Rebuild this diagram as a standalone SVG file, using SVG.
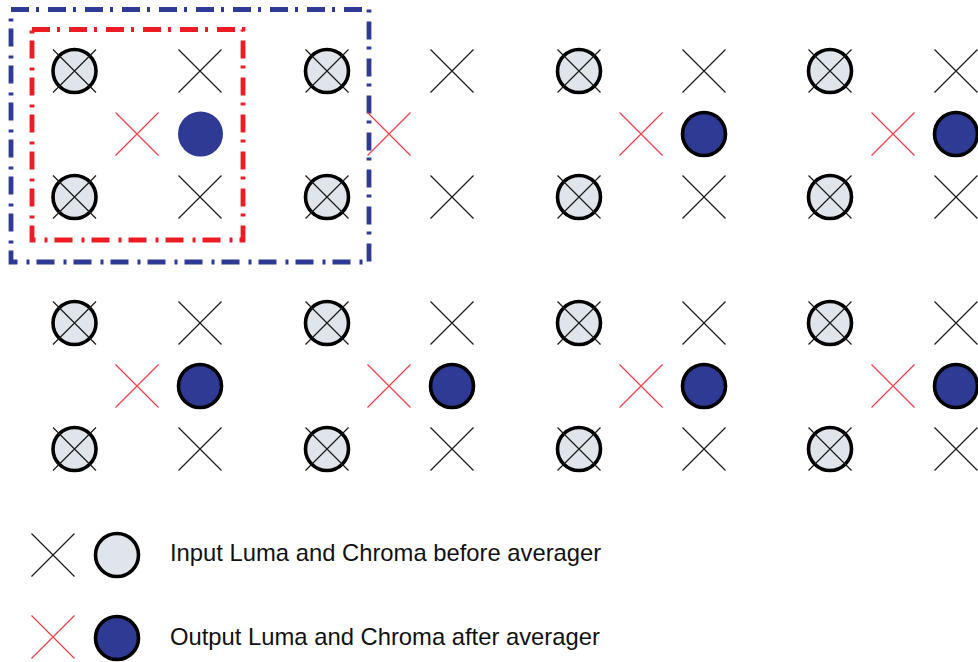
<svg xmlns="http://www.w3.org/2000/svg" xmlns:xlink="http://www.w3.org/1999/xlink" width="978" height="662" viewBox="0 0 978 662">
<style>
.xk{stroke:#1a1a1a;stroke-width:1.2;fill:none}
.xr{stroke:#ef3e48;stroke-width:1.2;fill:none}
.luma{fill:#dfe5eb;stroke:#000;stroke-width:3.6}
.chroma{fill:#2e3a94;stroke:#000;stroke-width:3.6}
.box{fill:none;stroke-width:4.8;stroke-dasharray:18 7 3 9}
.lbl{font-family:"Liberation Sans",Arial,sans-serif;font-size:23.8px;fill:#111}
</style>
<defs>
<path id="cross" d="M-21.5,-21.5L21.5,21.5M21.5,-21.5L-21.5,21.5"/>
<g id="lumaX"><circle class="luma" r="21.5"/><use xlink:href="#cross" class="xk"/></g>
<g id="blackX"><use xlink:href="#cross" class="xk"/></g>
<g id="redX"><use xlink:href="#cross" class="xr"/></g>
<g id="blueC"><circle class="chroma" r="21.5"/></g>
</defs>
<rect width="978" height="662" fill="#fff"/>
<g id="connectors">
<rect class="box" x="11" y="9.5" width="358" height="252.5" stroke="#2e3a94"/>
<rect class="box" x="32" y="29.5" width="211" height="210.5" stroke="#ed1c24"/>
</g>
<g id="grid">
<g id="n-l-1-1"><use xlink:href="#lumaX" x="74.5" y="71"/></g>
<g id="n-x-1-1"><use xlink:href="#blackX" x="200" y="71"/></g>
<g id="n-l-1-2"><use xlink:href="#lumaX" x="327" y="71"/></g>
<g id="n-x-1-2"><use xlink:href="#blackX" x="452" y="71"/></g>
<g id="n-l-1-3"><use xlink:href="#lumaX" x="579" y="71"/></g>
<g id="n-x-1-3"><use xlink:href="#blackX" x="704" y="71"/></g>
<g id="n-l-1-4"><use xlink:href="#lumaX" x="830" y="71"/></g>
<g id="n-x-1-4"><use xlink:href="#blackX" x="956" y="71"/></g>

<g id="n-r-2-1"><use xlink:href="#redX" x="137" y="134"/></g>
<g id="n-c-2-1"><circle cx="200.5" cy="134" r="21.5" fill="#2e3a94" stroke="#2e3a94" stroke-width="2"/></g>
<g id="n-r-2-2"><use xlink:href="#redX" x="389" y="134"/></g>
<g id="n-r-2-3"><use xlink:href="#redX" x="641" y="134"/></g>
<g id="n-c-2-3"><use xlink:href="#blueC" x="704" y="134"/></g>
<g id="n-r-2-4"><use xlink:href="#redX" x="893" y="134"/></g>
<g id="n-c-2-4"><use xlink:href="#blueC" x="956" y="134"/></g>

<g id="n-l-3-1"><use xlink:href="#lumaX" x="74.5" y="197"/></g>
<g id="n-x-3-1"><use xlink:href="#blackX" x="200" y="197"/></g>
<g id="n-l-3-2"><use xlink:href="#lumaX" x="327" y="197"/></g>
<g id="n-x-3-2"><use xlink:href="#blackX" x="452" y="197"/></g>
<g id="n-l-3-3"><use xlink:href="#lumaX" x="579" y="197"/></g>
<g id="n-x-3-3"><use xlink:href="#blackX" x="704" y="197"/></g>
<g id="n-l-3-4"><use xlink:href="#lumaX" x="830" y="197"/></g>
<g id="n-x-3-4"><use xlink:href="#blackX" x="956" y="197"/></g>

<g id="n-l-4-1"><use xlink:href="#lumaX" x="74.5" y="323"/></g>
<g id="n-x-4-1"><use xlink:href="#blackX" x="200" y="323"/></g>
<g id="n-l-4-2"><use xlink:href="#lumaX" x="327" y="323"/></g>
<g id="n-x-4-2"><use xlink:href="#blackX" x="452" y="323"/></g>
<g id="n-l-4-3"><use xlink:href="#lumaX" x="579" y="323"/></g>
<g id="n-x-4-3"><use xlink:href="#blackX" x="704" y="323"/></g>
<g id="n-l-4-4"><use xlink:href="#lumaX" x="830" y="323"/></g>
<g id="n-x-4-4"><use xlink:href="#blackX" x="956" y="323"/></g>

<g id="n-r-5-1"><use xlink:href="#redX" x="137" y="386"/></g>
<g id="n-c-5-1"><use xlink:href="#blueC" x="200" y="386"/></g>
<g id="n-r-5-2"><use xlink:href="#redX" x="389" y="386"/></g>
<g id="n-c-5-2"><use xlink:href="#blueC" x="452" y="386"/></g>
<g id="n-r-5-3"><use xlink:href="#redX" x="641" y="386"/></g>
<g id="n-c-5-3"><use xlink:href="#blueC" x="704" y="386"/></g>
<g id="n-r-5-4"><use xlink:href="#redX" x="893" y="386"/></g>
<g id="n-c-5-4"><use xlink:href="#blueC" x="956" y="386"/></g>

<g id="n-l-6-1"><use xlink:href="#lumaX" x="74.5" y="449"/></g>
<g id="n-x-6-1"><use xlink:href="#blackX" x="200" y="449"/></g>
<g id="n-l-6-2"><use xlink:href="#lumaX" x="327" y="449"/></g>
<g id="n-x-6-2"><use xlink:href="#blackX" x="452" y="449"/></g>
<g id="n-l-6-3"><use xlink:href="#lumaX" x="579" y="449"/></g>
<g id="n-x-6-3"><use xlink:href="#blackX" x="704" y="449"/></g>
<g id="n-l-6-4"><use xlink:href="#lumaX" x="830" y="449"/></g>
<g id="n-x-6-4"><use xlink:href="#blackX" x="956" y="449"/></g>
</g>
<g id="legend">
<g id="legend-input">
<use xlink:href="#blackX" x="53" y="555"/>
<circle class="luma" cx="117" cy="555" r="21.5"/>
<text class="lbl" x="170" y="561">Input Luma and Chroma before averager</text>
</g>
<g id="legend-output">
<use xlink:href="#redX" x="53" y="637"/>
<circle class="chroma" cx="117" cy="638" r="21.5"/>
<text class="lbl" x="170" y="645">Output Luma and Chroma after averager</text>
</g>
</g>
</svg>
